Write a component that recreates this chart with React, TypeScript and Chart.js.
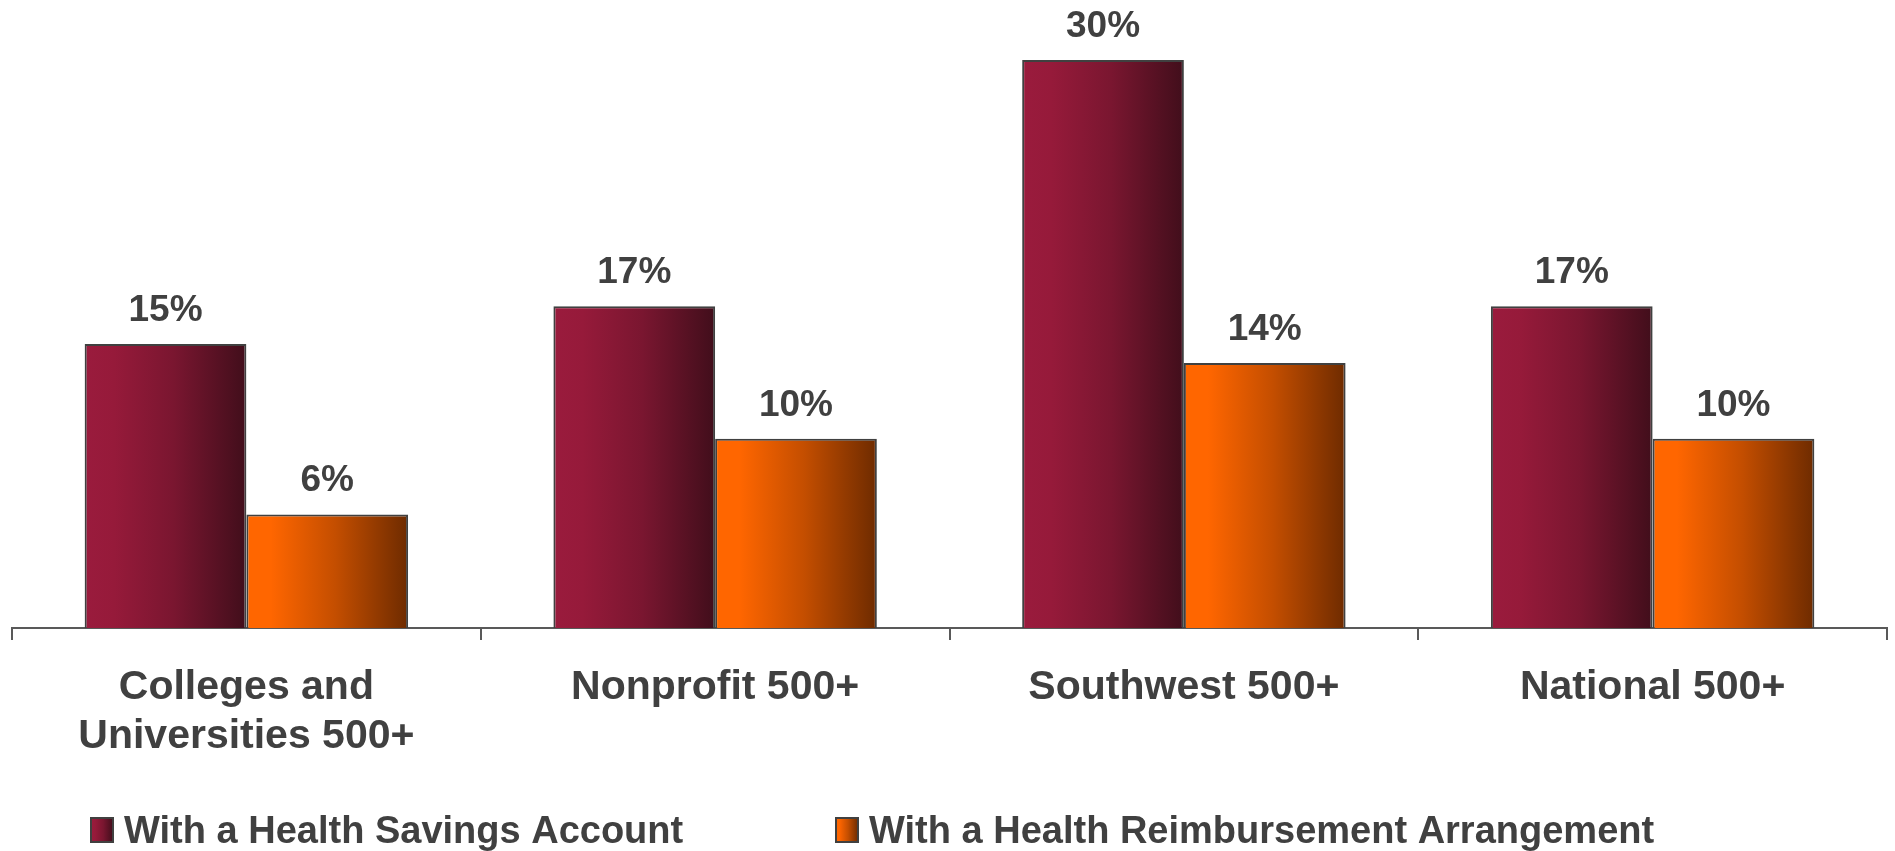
import React, { useEffect, useRef } from "react";
import { Chart, registerables } from "chart.js";

Chart.register(...registerables);

const categories: (string | string[])[] = [
  ["Colleges and", "Universities 500+"],
  "Nonprofit 500+",
  "Southwest 500+",
  "National 500+",
];
const hsaValues = [15, 17, 30, 17];
const hraValues = [6, 10, 14, 10];
const seriesLabels = ["With a Health Savings Account", "With a Health Reimbursement Arrangement"];

const FONT = "'Liberation Sans', Arial, Helvetica, sans-serif";
const TEXT = "#404040";
const AXIS = "#595959";

const gradStops: [number, string][][] = [
  [
    [0, "#9A1B3D"],
    [0.18, "#961A3A"],
    [0.55, "#7A1630"],
    [1, "#410E1B"],
  ],
  [
    [0, "#FF6600"],
    [0.15, "#FF6600"],
    [0.55, "#C44E00"],
    [1, "#6E2B00"],
  ],
];

function makeGrad(ctx: CanvasRenderingContext2D, x0: number, x1: number, idx: number) {
  const g = ctx.createLinearGradient(x0, 0, x1, 0);
  for (const [o, c] of gradStops[idx]) g.addColorStop(o, c);
  return g;
}

const gradientPlugin = {
  id: "barGradient",
  beforeDatasetsDraw(chart: any) {
    const ctx = chart.ctx;
    chart.data.datasets.forEach((_: any, di: number) => {
      const meta = chart.getDatasetMeta(di);
      meta.data.forEach((el: any) => {
        const x0 = el.x - el.width / 2;
        const x1 = el.x + el.width / 2;
        el.options = { ...el.options, backgroundColor: makeGrad(ctx, x0, x1, di) };
      });
    });
  },
};

const labelPlugin = {
  id: "valueLabels",
  afterDatasetsDraw(chart: any) {
    const ctx = chart.ctx;
    ctx.save();
    ctx.font = `bold 37px ${FONT}`;
    ctx.fillStyle = TEXT;
    ctx.textAlign = "center";
    ctx.textBaseline = "alphabetic";
    chart.data.datasets.forEach((ds: any, di: number) => {
      const meta = chart.getDatasetMeta(di);
      meta.data.forEach((el: any, i: number) => {
        ctx.fillText(`${ds.data[i]}%`, el.x, el.y - 23);
      });
    });
    ctx.restore();
  },
};

const legendPlugin = {
  id: "customLegend",
  afterDraw(chart: any) {
    const ctx = chart.ctx;
    const items = [
      { x: 91, text: chart.data.datasets[0].label },
      { x: 836, text: chart.data.datasets[1].label },
    ];
    ctx.save();
    items.forEach((it, i) => {
      const bx = it.x;
      const by = 818;
      ctx.fillStyle = makeGrad(ctx, bx, bx + 22, i);
      ctx.fillRect(bx, by, 22, 24);
      ctx.strokeStyle = TEXT;
      ctx.lineWidth = 2;
      ctx.strokeRect(bx, by, 22, 24);
      ctx.font = `bold 38px ${FONT}`;
      ctx.fillStyle = TEXT;
      ctx.textAlign = "left";
      ctx.textBaseline = "alphabetic";
      ctx.fillText(it.text, bx + 33, 843);
    });
    ctx.restore();
  },
};

export default function App() {
  const ref = useRef<HTMLCanvasElement>(null);
  useEffect(() => {
    if (!ref.current) return;
    const chart = new Chart(ref.current, {
      type: "bar",
      data: {
        labels: categories,
        datasets: [
          {
            label: seriesLabels[0],
            data: hsaValues,
            backgroundColor: "#961A3A",
            borderColor: TEXT,
            borderWidth: 2,
            barPercentage: 1,
            categoryPercentage: 0.69,
          },
          {
            label: seriesLabels[1],
            data: hraValues,
            backgroundColor: "#FF6600",
            borderColor: TEXT,
            borderWidth: 2,
            barPercentage: 1,
            categoryPercentage: 0.69,
          },
        ],
      },
      options: {
        responsive: false,
        animation: false,
        layout: { padding: { top: 60, left: 12, right: 8, bottom: 0 } },
        plugins: {
          legend: { display: false },
          tooltip: { enabled: false },
        },
        scales: {
          x: {
            offset: true,
            grid: {
              display: true,
              offset: true,
              drawOnChartArea: false,
              drawTicks: true,
              tickLength: 12,
              color: AXIS,
              lineWidth: 2,
            },
            border: { display: true, color: AXIS, width: 2 },
            ticks: {
              color: TEXT,
              padding: 23,
              maxRotation: 0,
              autoSkip: false,
              font: { family: FONT, size: 41, weight: "bold", lineHeight: 1.2 },
            },
            afterFit: (scale: any) => {
              scale.height = 223;
            },
          },
          y: {
            display: false,
            min: 0,
            max: 30,
          },
        },
      },
      plugins: [gradientPlugin, labelPlugin, legendPlugin],
    });
    return () => chart.destroy();
  }, []);
  return (
    <div style={{ position: "absolute", left: 0, top: 0, width: 1895, height: 851, background: "#fff" }}>
      <canvas ref={ref} width={1895} height={851} style={{ display: "block" }} />
    </div>
  );
}
